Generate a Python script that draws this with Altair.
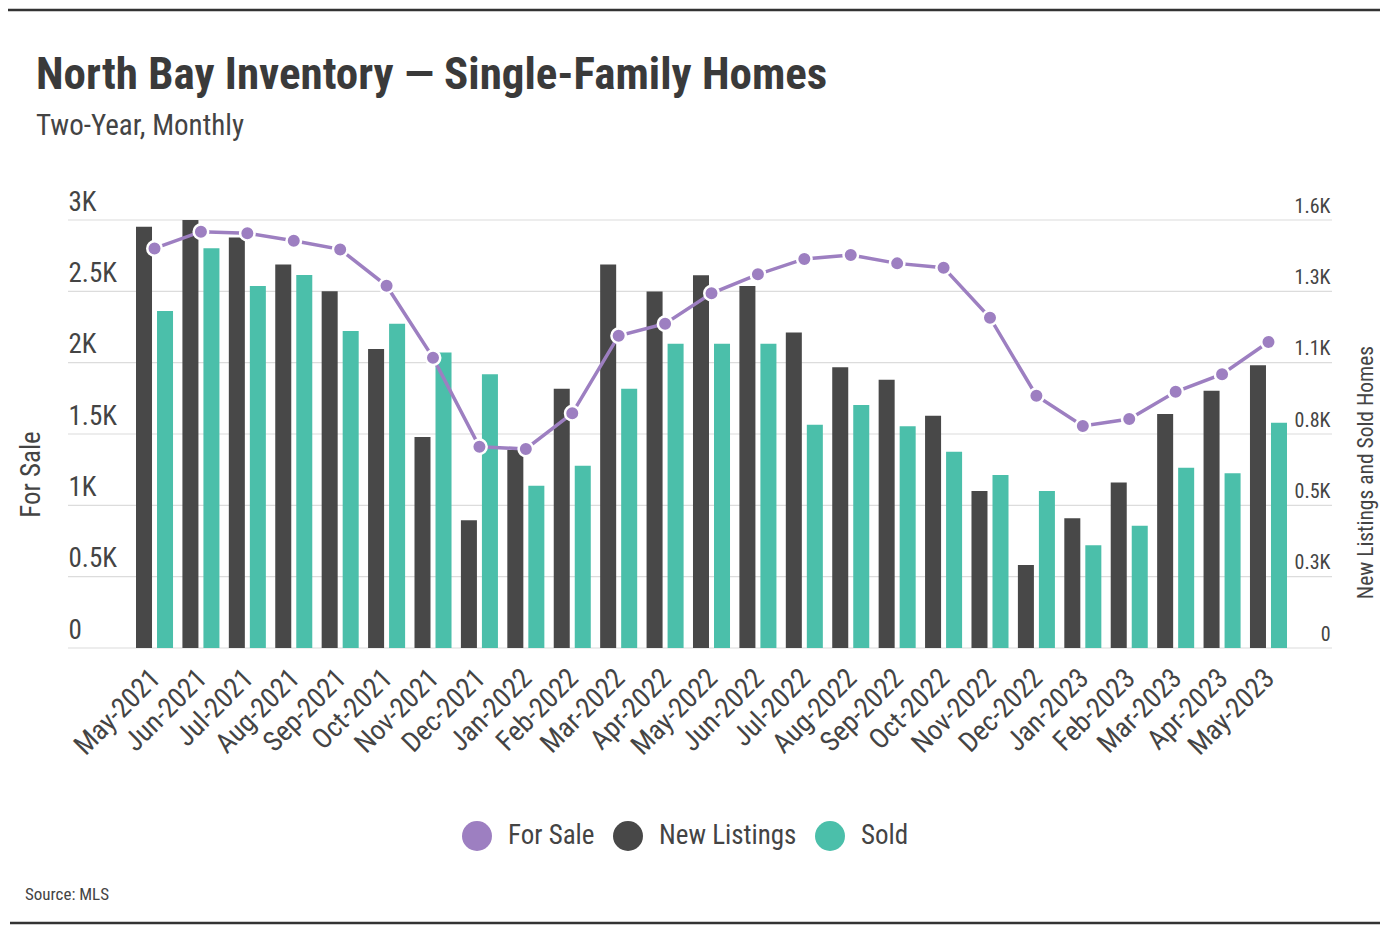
import altair as alt
import pandas as pd

months = ["May-2021", "Jun-2021", "Jul-2021", "Aug-2021", "Sep-2021", "Oct-2021",
          "Nov-2021", "Dec-2021", "Jan-2022", "Feb-2022", "Mar-2022", "Apr-2022",
          "May-2022", "Jun-2022", "Jul-2022", "Aug-2022", "Sep-2022", "Oct-2022",
          "Nov-2022", "Dec-2022", "Jan-2023", "Feb-2023", "Mar-2023", "Apr-2023",
          "May-2023"]
for_sale = [2801, 2918, 2907, 2855, 2794, 2539, 2035, 1411, 1395, 1645, 2189, 2273,
            2486, 2619, 2727, 2755, 2696, 2666, 2315, 1768, 1556, 1605, 1796, 1919,
            2145]
new_listings = [1575, 1600, 1535, 1434, 1334, 1118, 789, 478, 740, 969, 1434, 1333,
                1393, 1353, 1179, 1050, 1003, 868, 587, 310, 485, 619, 875, 962, 1057]
sold = [1260, 1494, 1353, 1394, 1185, 1212, 1105, 1023, 607, 681, 969, 1137, 1137,
        1137, 835, 908, 829, 734, 647, 587, 384, 457, 674, 653, 842]

series_names = ["For Sale", "New Listings", "Sold"]
series_colors = ["#9d7fc1", "#484848", "#4bbfaa"]
left_ticks = [0, 500, 1000, 1500, 2000, 2500, 3000]
right_ticks = [0, 1600 / 6, 3200 / 6, 800, 6400 / 6, 8000 / 6, 1600]

title_text = "North Bay Inventory \u2014 Single-Family Homes"
subtitle_text = "Two-Year, Monthly"
source_text = "Source: MLS"

FONT = "Roboto Condensed, Liberation Sans Narrow, DejaVu Sans Condensed, sans-serif"
W, H = 1264, 428

bars_df = pd.DataFrame(
    [{"month": m, "series": "New Listings", "value": v} for m, v in zip(months, new_listings)]
    + [{"month": m, "series": "Sold", "value": v} for m, v in zip(months, sold)]
)
line_df = pd.DataFrame({"month": months, "forsale": for_sale})
grid_df = pd.DataFrame({"v": left_ticks})

x_enc = alt.X(
    "month:N", sort=months,
    scale=alt.Scale(paddingInner=0.2022, paddingOuter=0, range=[68, 1219]),
    axis=alt.Axis(title=None, labelAngle=-45, labelFontSize=28, labelColor="#444",
                  domain=False, ticks=False, labelPadding=16, labelOffset=-8,
                  labelFont=FONT),
)

grid = alt.Chart(grid_df).mark_rule(color="#dcdcdc", strokeWidth=1.2).encode(
    y=alt.Y("v:Q", scale=alt.Scale(domain=[0, 3000], nice=False), axis=None),
    x=alt.value(0), x2=alt.value(W),
)

bars = alt.Chart(bars_df).mark_bar().encode(
    x=x_enc,
    xOffset=alt.XOffset("series:N", sort=["New Listings", "Sold"],
                        scale=alt.Scale(paddingInner=0.238, paddingOuter=0)),
    y=alt.Y("value:Q", scale=alt.Scale(domain=[0, 1600], nice=False),
            axis=alt.Axis(orient="right", values=right_ticks, grid=False, domain=False,
                          ticks=False, tickSize=0, labelAlign="right", labelPadding=-2,
                          labelBaseline="alphabetic", labelOffset=-8, labelFontSize=20,
                          labelColor="#444", labelFont=FONT,
                          labelExpr="datum.value == 0 ? '0' : format(datum.value / 1000, '.1f') + 'K'",
                          title="New Listings and Sold Homes", titleFontSize=21.5,
                          titleFontWeight="normal", titleColor="#444", titleFont=FONT,
                          titleAngle=270, titleX=40, titleY=252, titleAlign="center",
                          titleBaseline="alphabetic")),
    color=alt.Color("series:N",
                    scale=alt.Scale(domain=series_names, range=series_colors),
                    legend=alt.Legend(title=None, orient="none", legendX=394, legendY=601,
                                      direction="horizontal", symbolType="circle",
                                      symbolSize=900, symbolStrokeWidth=0,
                                      labelFontSize=27, labelColor="#444", labelFont=FONT,
                                      labelOffset=16, columnPadding=18, padding=0)),
)

line = alt.Chart(line_df).mark_line(
    color="#9d7fc1", strokeWidth=3.5,
    point=alt.OverlayMarkDef(filled=True, size=210, color="#9d7fc1", stroke="white",
                             strokeWidth=2.5, opacity=1),
).encode(
    x=x_enc,
    y=alt.Y("forsale:Q", scale=alt.Scale(domain=[0, 3000], nice=False),
            axis=alt.Axis(orient="left", values=left_ticks, grid=False,
                          domain=False, ticks=False, tickSize=0,
                          labelAlign="left", labelPadding=0, labelBaseline="alphabetic",
                          labelOffset=-10, labelFontSize=27, labelColor="#444",
                          labelFont=FONT,
                          labelExpr="datum.value == 0 ? '0' : format(datum.value / 1000, '~g') + 'K'",
                          title="For Sale", titleFontSize=27, titleFontWeight="normal",
                          titleColor="#444", titleFont=FONT, titleAngle=270, titleX=-29,
                          titleY=254, titleAlign="center", titleBaseline="alphabetic")),
)

title = alt.Chart(pd.DataFrame({"t": [title_text]})).mark_text(
    align="left", baseline="alphabetic", fontSize=45, fontWeight="bold",
    color="#3a3a3a", font=FONT
).encode(text="t:N", x=alt.value(-32), y=alt.value(-131))

subtitle = alt.Chart(pd.DataFrame({"t": [subtitle_text]})).mark_text(
    align="left", baseline="alphabetic", fontSize=29, color="#444", font=FONT
).encode(text="t:N", x=alt.value(-32), y=alt.value(-85))

source = alt.Chart(pd.DataFrame({"t": [source_text]})).mark_text(
    align="left", baseline="alphabetic", fontSize=17, color="#444", font=FONT
).encode(text="t:N", x=alt.value(-43), y=alt.value(680))

frame_df = pd.DataFrame({"k": [0]})
top_rule = alt.Chart(frame_df).mark_rule(color="#333", strokeWidth=2.5).encode(
    x=alt.value(-60), x2=alt.value(1312), y=alt.value(-210))
bottom_rule = alt.Chart(frame_df).mark_rule(color="#333", strokeWidth=2.5).encode(
    x=alt.value(-58), x2=alt.value(1312), y=alt.value(703))

chart = alt.layer(grid, bars, line, title, subtitle, source, top_rule,
                  bottom_rule).resolve_scale(
    y="independent"
).properties(
    width=W, height=H,
    autosize=alt.AutoSizeParams(type="none"),
    padding={"left": 60, "top": 212, "right": 52, "bottom": 280},
).configure(font=FONT).configure_view(strokeWidth=0, stroke="transparent")

chart.save("out.html", embed_options={"renderer": "svg", "actions": False})
